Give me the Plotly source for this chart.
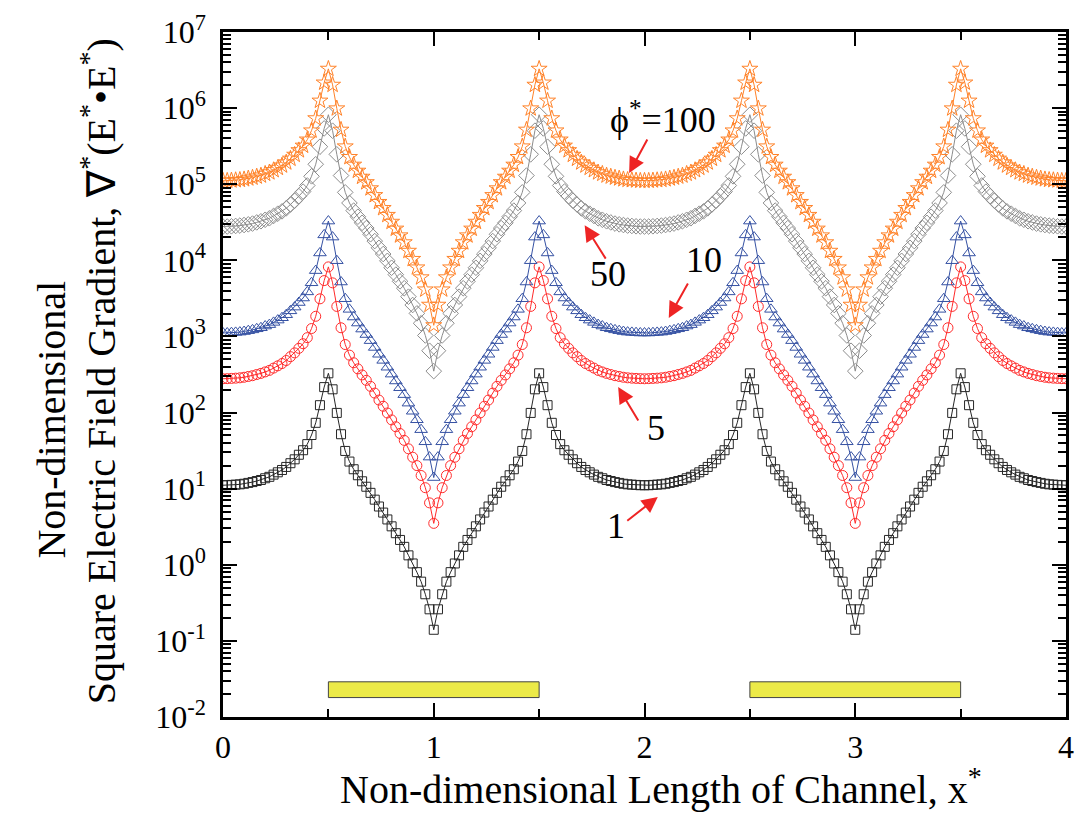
import math
import plotly.graph_objects as go

# ---------------- data ----------------
x_star = [round(i * 0.02, 2) for i in range(201)]

phi_1 = [
    11.1, 11.1, 11.2, 11.3, 11.4, 11.6, 11.9, 12.2, 12.6, 13.0, 13.7, 14.3, 15.3, 16.4, 17.6, 19.3, 21.6, 24.3, 27.9, 32.0,
    38.5, 50.7, 73.3, 125, 216, 328, 202, 98.9, 51.9, 31.3, 22.7, 18.0, 15.0, 12.5, 10.6, 8.81, 7.17, 5.83, 4.85, 3.94,
    3.20, 2.60, 2.12, 1.72, 1.33, 1.04, 0.80, 0.60, 0.41, 0.26, 0.14,
    0.26, 0.41, 0.60, 0.80, 1.04, 1.33, 1.72, 2.12, 2.60, 3.20, 3.94, 4.85, 5.83, 7.17, 8.81, 10.6, 12.5, 15.0, 18.0, 22.7,
    31.3, 51.9, 98.9, 202, 328, 216, 125, 73.3, 50.7, 38.5, 32.0, 27.9, 24.3, 21.6, 19.3, 17.6, 16.4, 15.3, 14.3, 13.7,
    13.0, 12.6, 12.2, 11.9, 11.6, 11.4, 11.3, 11.2, 11.1, 11.1,
    11.1, 11.2, 11.3, 11.4, 11.6, 11.9, 12.2, 12.6, 13.0, 13.7, 14.3, 15.3, 16.4, 17.6, 19.3, 21.6, 24.3, 27.9, 32.0, 38.5,
    50.7, 73.3, 125, 216, 328, 202, 98.9, 51.9, 31.3, 22.7, 18.0, 15.0, 12.5, 10.6, 8.81, 7.17, 5.83, 4.85, 3.94, 3.20,
    2.60, 2.12, 1.72, 1.33, 1.04, 0.80, 0.60, 0.41, 0.26, 0.14,
    0.26, 0.41, 0.60, 0.80, 1.04, 1.33, 1.72, 2.12, 2.60, 3.20, 3.94, 4.85, 5.83, 7.17, 8.81, 10.6, 12.5, 15.0, 18.0, 22.7,
    31.3, 51.9, 98.9, 202, 328, 216, 125, 73.3, 50.7, 38.5, 32.0, 27.9, 24.3, 21.6, 19.3, 17.6, 16.4, 15.3, 14.3, 13.7,
    13.0, 12.6, 12.2, 11.9, 11.6, 11.4, 11.3, 11.2, 11.1, 11.1,
]

phi_5 = [
    278, 279, 281, 283, 286, 291, 298, 305, 316, 327, 342, 358, 384, 411, 441, 483, 542, 608, 698, 802,
    964, 1270, 1840, 3120, 5420, 8200, 5060, 2480, 1300, 783, 568, 451, 375, 312, 265, 221, 180, 146, 121, 98.7,
    80.1, 65.1, 53.1, 43.1, 33.4, 25.9, 20.1, 14.9, 10.3, 6.51, 3.50,
    6.51, 10.3, 14.9, 20.1, 25.9, 33.4, 43.1, 53.1, 65.1, 80.1, 98.7, 121, 146, 180, 221, 265, 312, 375, 451, 568,
    783, 1300, 2480, 5060, 8200, 5420, 3120, 1840, 1270, 964, 802, 698, 608, 542, 483, 441, 411, 384, 358, 342,
    327, 316, 305, 298, 291, 286, 283, 281, 279, 278,
    279, 281, 283, 286, 291, 298, 305, 316, 327, 342, 358, 384, 411, 441, 483, 542, 608, 698, 802, 964,
    1270, 1840, 3120, 5420, 8200, 5060, 2480, 1300, 783, 568, 451, 375, 312, 265, 221, 180, 146, 121, 98.7, 80.1,
    65.1, 53.1, 43.1, 33.4, 25.9, 20.1, 14.9, 10.3, 6.51, 3.50,
    6.51, 10.3, 14.9, 20.1, 25.9, 33.4, 43.1, 53.1, 65.1, 80.1, 98.7, 121, 146, 180, 221, 265, 312, 375, 451, 568,
    783, 1300, 2480, 5060, 8200, 5420, 3120, 1840, 1270, 964, 802, 698, 608, 542, 483, 441, 411, 384, 358, 342,
    327, 316, 305, 298, 291, 286, 283, 281, 279, 278,
]

phi_10 = [
    1110, 1110, 1120, 1130, 1140, 1160, 1190, 1220, 1260, 1300, 1370, 1430, 1530, 1640, 1760, 1930, 2170, 2430, 2790, 3200,
    3850, 5070, 7330, 12500, 21600, 32800, 20200, 9890, 5190, 3130, 2270, 1800, 1500, 1250, 1060, 881, 717, 583, 485, 394,
    320, 260, 212, 172, 133, 104, 80.4, 59.6, 41.3, 26.0, 14.0,
    26.0, 41.3, 59.6, 80.4, 104, 133, 172, 212, 260, 320, 394, 485, 583, 717, 881, 1060, 1250, 1500, 1800, 2270,
    3130, 5190, 9890, 20200, 32800, 21600, 12500, 7330, 5070, 3850, 3200, 2790, 2430, 2170, 1930, 1760, 1640, 1530, 1430, 1370,
    1300, 1260, 1220, 1190, 1160, 1140, 1130, 1120, 1110, 1110,
    1110, 1120, 1130, 1140, 1160, 1190, 1220, 1260, 1300, 1370, 1430, 1530, 1640, 1760, 1930, 2170, 2430, 2790, 3200, 3850,
    5070, 7330, 12500, 21600, 32800, 20200, 9890, 5190, 3130, 2270, 1800, 1500, 1250, 1060, 881, 717, 583, 485, 394, 320,
    260, 212, 172, 133, 104, 80.4, 59.6, 41.3, 26.0, 14.0,
    26.0, 41.3, 59.6, 80.4, 104, 133, 172, 212, 260, 320, 394, 485, 583, 717, 881, 1060, 1250, 1500, 1800, 2270,
    3130, 5190, 9890, 20200, 32800, 21600, 12500, 7330, 5070, 3850, 3200, 2790, 2430, 2170, 1930, 1760, 1640, 1530, 1430, 1370,
    1300, 1260, 1220, 1190, 1160, 1140, 1130, 1120, 1110, 1110,
]

phi_50 = [
    27800, 27800, 28000, 28300, 28600, 29100, 29700, 30400, 31500, 32600, 34100, 35700, 38300, 41000, 44000, 48200, 54100, 60700, 69700, 80000,
    96200, 127000, 183000, 311000, 541000, 819000, 505000, 247000, 130000, 78200, 56700, 45000, 37400, 31100, 26500, 22000, 17900, 14600, 12100, 9850,
    7990, 6490, 5300, 4300, 3330, 2590, 2010, 1490, 1030, 649, 350,
    649, 1030, 1490, 2010, 2590, 3330, 4300, 5300, 6490, 7990, 9850, 12100, 14600, 17900, 22000, 26500, 31100, 37400, 45000, 56700,
    78200, 130000, 247000, 505000, 819000, 541000, 311000, 183000, 127000, 96200, 80000, 69700, 60700, 54100, 48200, 44000, 41000, 38300, 35700, 34100,
    32600, 31500, 30400, 29700, 29100, 28600, 28300, 28000, 27800, 27800,
    27800, 28000, 28300, 28600, 29100, 29700, 30400, 31500, 32600, 34100, 35700, 38300, 41000, 44000, 48200, 54100, 60700, 69700, 80000, 96200,
    127000, 183000, 311000, 541000, 819000, 505000, 247000, 130000, 78200, 56700, 45000, 37400, 31100, 26500, 22000, 17900, 14600, 12100, 9850, 7990,
    6490, 5300, 4300, 3330, 2590, 2010, 1490, 1030, 649, 350,
    649, 1030, 1490, 2010, 2590, 3330, 4300, 5300, 6490, 7990, 9850, 12100, 14600, 17900, 22000, 26500, 31100, 37400, 45000, 56700,
    78200, 130000, 247000, 505000, 819000, 541000, 311000, 183000, 127000, 96200, 80000, 69700, 60700, 54100, 48200, 44000, 41000, 38300, 35700, 34100,
    32600, 31500, 30400, 29700, 29100, 28600, 28300, 28000, 27800, 27800,
]

phi_100 = [
    111000, 111000, 112000, 113000, 114000, 116000, 119000, 122000, 126000, 130000, 137000, 143000, 153000, 164000, 176000, 193000, 216000, 243000, 279000, 320000,
    385000, 507000, 733000, 1250000, 2160000, 3280000, 2020000, 989000, 519000, 313000, 227000, 180000, 150000, 125000, 106000, 88100, 71700, 58300, 48500, 39400,
    32000, 26000, 21200, 17200, 13300, 10400, 8040, 5960, 4130, 2600, 1400,
    2600, 4130, 5960, 8040, 10400, 13300, 17200, 21200, 26000, 32000, 39400, 48500, 58300, 71700, 88100, 106000, 125000, 150000, 180000, 227000,
    313000, 519000, 989000, 2020000, 3280000, 2160000, 1250000, 733000, 507000, 385000, 320000, 279000, 243000, 216000, 193000, 176000, 164000, 153000, 143000, 137000,
    130000, 126000, 122000, 119000, 116000, 114000, 113000, 112000, 111000, 111000,
    111000, 112000, 113000, 114000, 116000, 119000, 122000, 126000, 130000, 137000, 143000, 153000, 164000, 176000, 193000, 216000, 243000, 279000, 320000, 385000,
    507000, 733000, 1250000, 2160000, 3280000, 2020000, 989000, 519000, 313000, 227000, 180000, 150000, 125000, 106000, 88100, 71700, 58300, 48500, 39400, 32000,
    26000, 21200, 17200, 13300, 10400, 8040, 5960, 4130, 2600, 1400,
    2600, 4130, 5960, 8040, 10400, 13300, 17200, 21200, 26000, 32000, 39400, 48500, 58300, 71700, 88100, 106000, 125000, 150000, 180000, 227000,
    313000, 519000, 989000, 2020000, 3280000, 2160000, 1250000, 733000, 507000, 385000, 320000, 279000, 243000, 216000, 193000, 176000, 164000, 153000, 143000, 137000,
    130000, 126000, 122000, 119000, 116000, 114000, 113000, 112000, 111000, 111000,
]

phi_labels = ["1", "5", "10", "50", "100"]

x_tick_vals = [0, 1, 2, 3, 4]
x_minor_vals = [0.5, 1.5, 2.5, 3.5]
y_exponents = [-2, -1, 0, 1, 2, 3, 4, 5, 6, 7]

electrode_spans = [(0.5, 1.5), (2.5, 3.5)]
electrode_y = (0.018, 0.029)

# label positions (x, y value) and arrow head / tail offset (px)
label_pos = {"100": (2.087, 7.6e5), "50": (1.828, 6.6e3), "10": (2.280, 1.0e4), "5": (2.054, 62), "1": (1.866, 3.2)}
arrow_head = {"100": (1.927, 1.40e5), "50": (1.716, 2.9e4), "10": (2.115, 1750), "5": (1.875, 216), "1": (2.063, 7.8)}
arrow_tail = {"100": (19, -35), "50": (22, 35), "10": (20, -36), "5": (21, 35), "1": (-32, 25)}

# ---------------- figure ----------------
FONT = "Liberation Serif, Times New Roman, serif"

styles = [
    (phi_1, "square-open", "#262626", 9),
    (phi_5, "circle-open", "#ff2b2b", 10),
    (phi_10, "triangle-up-open", "#3551a3", 11),
    (phi_50, "diamond-open", "#8c8c8c", 12),
    (phi_100, "star-open", "#ff8228", 12),
]

fig = go.Figure()

# electrodes (yellow bars)
for x0, x1 in electrode_spans:
    fig.add_trace(go.Scatter(
        x=[x0, x1, x1, x0, x0],
        y=[electrode_y[0], electrode_y[0], electrode_y[1], electrode_y[1], electrode_y[0]],
        mode="lines", fill="toself", fillcolor="#ecea48",
        line=dict(color="#444444", width=1), showlegend=False, hoverinfo="skip",
    ))

for (vals, sym, col, size), lab in zip(styles, phi_labels):
    fig.add_trace(go.Scatter(
        x=x_star, y=vals, mode="lines+markers", name=lab,
        line=dict(color=col, width=1),
        marker=dict(symbol=sym, size=size, color=col, line=dict(color=col, width=1)),
        showlegend=False,
    ))

annotations = []
for lab in phi_labels:
    lx, ly = label_pos[lab]
    txt = "\u03d5<sup>*</sup>=100" if lab == "100" else lab
    annotations.append(dict(x=lx, y=math.log10(ly), xref="x", yref="y", text=txt,
                            xanchor="center", yanchor="middle",
                            showarrow=False, font=dict(family=FONT, size=36, color="black")))
    hx, hy = arrow_head[lab]
    ax, ay = arrow_tail[lab]
    annotations.append(dict(x=hx, y=math.log10(hy), xref="x", yref="y", text="",
                            showarrow=True, ax=ax, ay=ay, arrowhead=2, arrowsize=1.6,
                            arrowwidth=2, arrowcolor="#ee2424"))

annotations += [
    dict(x=0.519, y=-0.1416, xref="paper", yref="paper", xanchor="center", yanchor="bottom",
         text="Non-dimensional Length of Channel, x<sup>*</sup>", showarrow=False,
         font=dict(family=FONT, size=40, color="black")),
    dict(x=-0.2033, y=0.4336, xref="paper", yref="paper", xanchor="center", yanchor="middle",
         text="Non-dimensional",
         textangle=-90, showarrow=False, font=dict(family=FONT, size=40, color="black")),
    dict(x=-0.148, y=0.505, xref="paper", yref="paper", xanchor="center", yanchor="middle",
         text="Square Electric Field Gradient, \u2207<sup>*</sup>(E<sup>*</sup>\u2022E<sup>*</sup>)",
         textangle=-90, showarrow=False, font=dict(family=FONT, size=40, color="black")),
]

y_minor = [m * 10 ** e for e in y_exponents[:-1] for m in range(2, 10)]

fig.update_layout(
    width=1081, height=814,
    margin=dict(l=223, r=7, t=32, b=97),
    paper_bgcolor="white", plot_bgcolor="white",
    annotations=annotations,
    xaxis=dict(range=[0, 4], tickvals=x_tick_vals, ticktext=[str(v) for v in x_tick_vals],
               ticks="inside", ticklen=14, tickwidth=2, tickcolor="black",
               showline=True, linewidth=2.5, linecolor="black", mirror="allticks",
               showgrid=False, zeroline=False,
               tickfont=dict(family=FONT, size=32, color="black"),
               minor=dict(tickvals=x_minor_vals, ticks="inside", ticklen=8, tickwidth=2, tickcolor="black", showgrid=False)),
    yaxis=dict(type="log", range=[-2, 7], tickvals=[10 ** e for e in y_exponents],
               ticktext=["10<sup>%d</sup>" % e for e in y_exponents],
               ticks="inside", ticklen=14, tickwidth=2, tickcolor="black",
               showline=True, linewidth=2.5, linecolor="black", mirror="allticks",
               showgrid=False, zeroline=False, ticklabelstandoff=8,
               tickfont=dict(family=FONT, size=32, color="black"),
               minor=dict(tickvals=y_minor, ticks="inside", ticklen=8, tickwidth=2, tickcolor="black", showgrid=False)),
)

fig.write_html("out.html", config={"displayModeBar": False},
               post_script="document.body.style.margin='0px';")
